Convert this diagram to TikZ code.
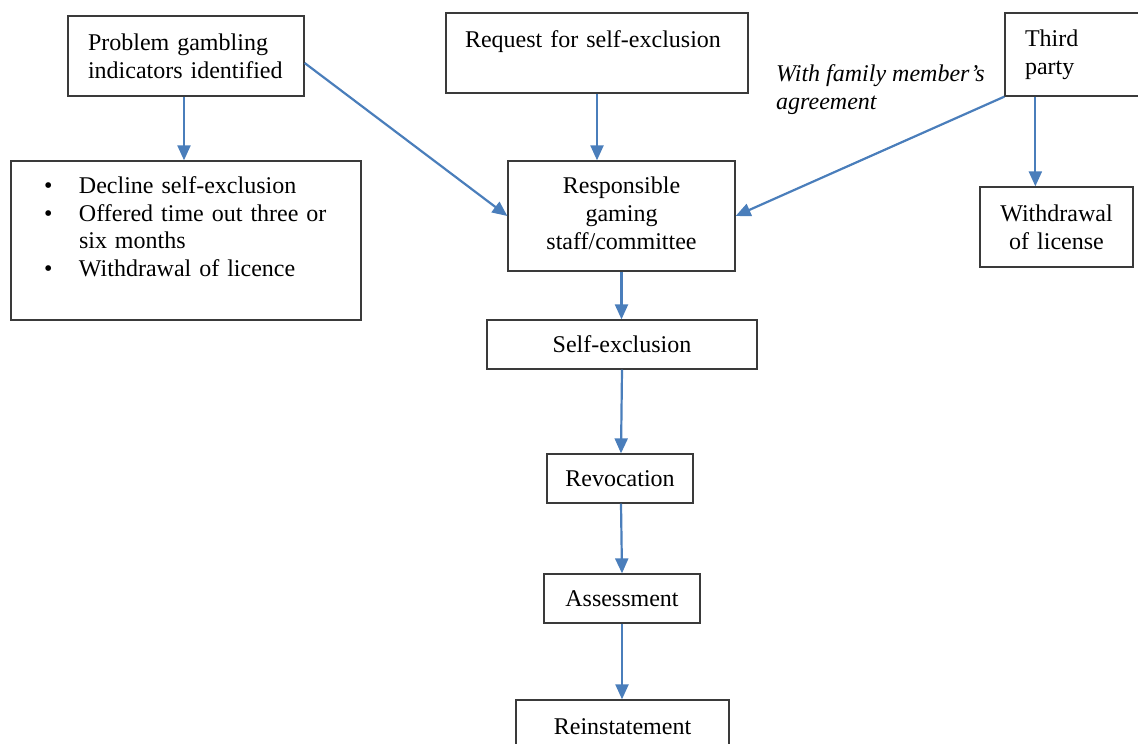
\documentclass[tikz,border=0pt]{standalone}
\usepackage{fontspec}
\setmainfont{Liberation Serif}
\usetikzlibrary{arrows.meta,positioning,calc}
\definecolor{arrowblue}{HTML}{4A7EBB}
\definecolor{boxgray}{HTML}{3A3A3A}
\newcommand{\bulletitem}{\hspace*{15pt}\makebox[35pt][l]{\textbullet}}
\begin{document}
\begin{tikzpicture}
  [x=1pt,y=-1pt,
   flowbox/.style={rectangle,draw=boxgray,line width=1.3pt,inner sep=0pt,
     font=\fontsize{24}{27.7}\selectfont},
   flowarr/.style={draw=arrowblue,line width=2.2pt,
     -{Triangle[length=15pt,width=13pt]}}]

  \useasboundingbox (0,0) rectangle (1138,744);
  \clip (0,0) rectangle (1138,744);

  \node[flowbox,minimum width=236,minimum height=80,text width=196,align=left]
    (prob) at (186,56) {Problem gambling\\indicators identified};
  \node[flowbox,minimum width=302,minimum height=80,text width=264,align=left]
    (req) at (597,53) {Request for self-exclusion\\ \mbox{}};
  \node[flowbox,minimum width=140,minimum height=83,text width=100,align=left]
    (third) at (1075,54.5) {Third\\party};

  \node[flowbox,minimum width=350,minimum height=159,text width=314,align=left]
    (bul) at (186,240.5) {%
      \bulletitem Decline self-exclusion\\
      \bulletitem Offered time out three or\\
      \hspace*{50pt}six months\\
      \bulletitem Withdrawal of licence\\
      \mbox{}};
  \node[flowbox,minimum width=227,minimum height=110,text width=200,align=center]
    (resp) at (621.5,216) {Responsible\\gaming\\staff/committee\\[-22pt] \mbox{}};
  \node[flowbox,minimum width=153,minimum height=80,text width=140,align=center]
    (wd) at (1056.5,227) {Withdrawal\\of license};

  \node[flowbox,minimum width=270,minimum height=49] (selfex) at (622,344.5) {Self-exclusion};
  \node[flowbox,minimum width=146,minimum height=49] (revoc)  at (620,478.5) {Revocation};
  \node[flowbox,minimum width=156,minimum height=49] (assess) at (622,598.5) {Assessment};
  \node[flowbox,minimum width=213,minimum height=54] (reinst) at (622.5,727) {Reinstatement};

  \node[anchor=west,align=left,inner sep=0pt,
    font=\fontsize{24}{27.7}\selectfont\itshape]
    (famlbl) at (776,89.5) {With family member’s\\agreement};

  \coordinate (probout) at ([yshift=-7pt]prob.east);
  \coordinate (tpout)   at ([xshift=31pt]third.south west);

  \draw [flowarr] ([xshift=-2pt]prob.south) -- ([xshift=-2pt]prob.south |- bul.north);
  \draw [flowarr] (probout) -- (resp.west);
  \draw [flowarr] (req.south) -- (req.south |- resp.north);
  \draw [flowarr] (third.south west) -- (resp.east);
  \draw [flowarr] (tpout) -- (tpout |- wd.north);

  \draw [flowarr] (resp.south) -- (resp.south |- selfex.north);
  \draw [flowarr] (selfex.south) -- ([xshift=1pt]revoc.north);
  \draw [flowarr] ([xshift=1pt]revoc.south) -- (assess.north);
  \draw [flowarr] (assess.south) -- (assess.south |- reinst.north);

\end{tikzpicture}
\end{document}
